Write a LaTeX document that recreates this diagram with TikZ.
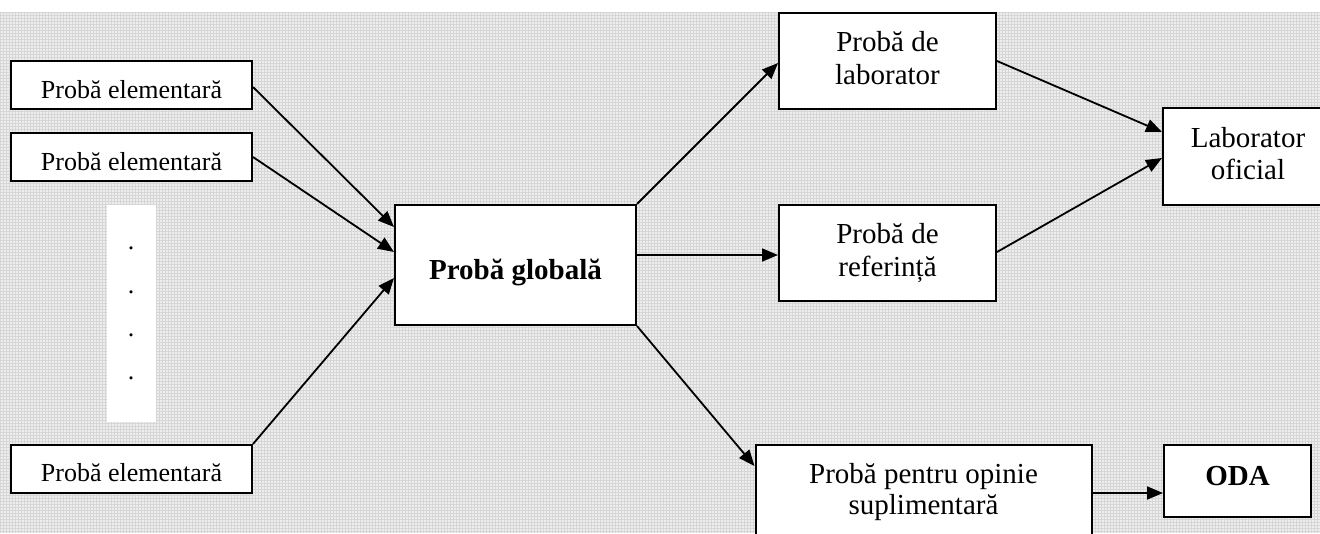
\documentclass[tikz,border=0pt]{standalone}
\usepackage{fontspec}
\setmainfont{Liberation Serif}
\usetikzlibrary{arrows.meta}
\definecolor{bggray}{RGB}{238,238,238}
\definecolor{gridgray}{RGB}{214,214,214}
\begin{document}
\begin{tikzpicture}[x=1pt,y=-1pt,
  box/.style={draw=black,line width=2pt,fill=white,inner sep=0pt},
  txt/.style={anchor=base,inner sep=0pt,font=\fontsize{29}{33}\selectfont},
  txtsmall/.style={anchor=base,inner sep=0pt,font=\fontsize{26}{30}\selectfont},
  txtbold/.style={anchor=base,inner sep=0pt,font=\fontsize{29}{33}\selectfont\bfseries},
  conn/.style={line width=1.8pt,-{Triangle[length=16pt,width=13pt]}}]
\useasboundingbox (0,0) rectangle (1320,533);
% background
\fill[white] (0,0) rectangle (1320,533);
\fill[bggray] (0,12) rectangle (1320,533);
\draw[gridgray,line width=0.5pt,step=3pt] (0,12) grid (1320,533);

% white strip behind dots
\fill[white] (107,205) rectangle (156,422);
\node[txtsmall] (d1) at (131,249) {.};
\node[txtsmall] (d2) at (131,293) {.};
\node[txtsmall] (d3) at (131,336) {.};
\node[txtsmall] (d4) at (131,379) {.};

% boxes
\node[box,minimum width=241pt,minimum height=48pt] (e1) at (131.5,85) {};
\node[box,minimum width=241pt,minimum height=48pt] (e2) at (131.5,157) {};
\node[box,minimum width=241pt,minimum height=48pt] (e3) at (131.5,469) {};
\node[box,minimum width=241pt,minimum height=120pt] (glob) at (515.5,265) {};
\node[box,minimum width=217pt,minimum height=96pt] (lab) at (887.5,61) {};
\node[box,minimum width=217pt,minimum height=96pt] (ref) at (887.5,253) {};
\node[box,minimum width=170pt,minimum height=97pt] (labof) at (1248,156.5) {};
\node[box,minimum width=336pt,minimum height=100pt] (bot) at (923.5,495) {};
\node[box,minimum width=147pt,minimum height=72pt] (oda) at (1237.5,481) {};

% texts
\node[txtsmall] (t1) at (131.5,98) {Probă elementară};
\node[txtsmall] (t2) at (131.5,170) {Probă elementară};
\node[txtsmall] (t3) at (131.5,481) {Probă elementară};
\node[txtbold] (tg) at (515.5,279) {Probă globală};
\node[txt] (tl1) at (887.5,51) {Probă de};
\node[txt] (tl2) at (887.5,84) {laborator};
\node[txt] (tr1) at (887.5,243) {Probă de};
\node[txt] (tr2) at (887.5,276) {referință};
\node[txt] (to1) at (1248,147) {Laborator};
\node[txt] (to2) at (1248,179) {oficial};
\node[txt] (tb1) at (923.5,483) {Probă pentru opinie};
\node[txt] (tb2) at (923.5,514) {suplimentară};
\node[txtbold] (toda) at (1237.5,485) {ODA};

% connectors
\draw[conn] ([yshift=-2pt]e1.east) -- ([yshift=38pt]glob.west);
\draw[conn] (e2.east) -- ([yshift=13pt]glob.west);
\draw[conn] (e3.north east) -- ([yshift=-13pt]glob.west);
\draw[conn] (glob.north east) -- ([yshift=-2pt]lab.west);
\draw[conn] ([yshift=10pt]glob.east) -- ([yshift=-2pt]ref.west);
\draw[conn] (glob.south east) -- ([yshift=29pt]bot.west);
\draw[conn] (lab.east) -- ([yshift=24.5pt]labof.west);
\draw[conn] ([yshift=1pt]ref.east) -- ([yshift=-1.5pt]labof.west);
\draw[conn] ([yshift=2pt]bot.east) -- ([yshift=-12pt]oda.west);
\end{tikzpicture}
\end{document}
